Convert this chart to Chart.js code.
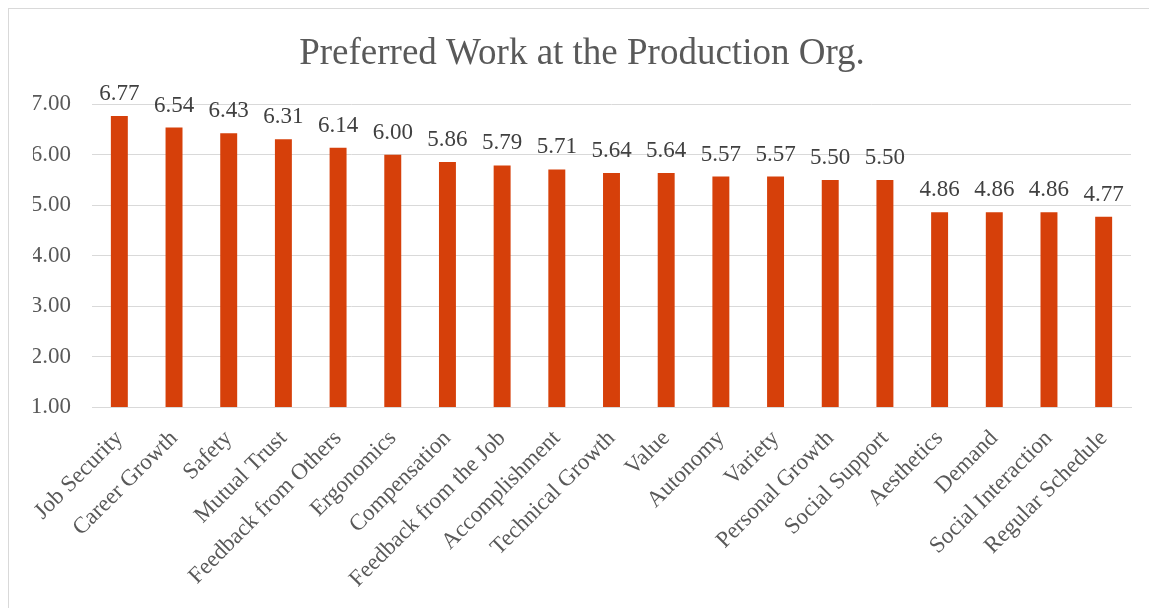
<!DOCTYPE html>
<html>
<head>
<meta charset="utf-8">
<script src="https://cdn.jsdelivr.net/npm/chart.js@4/dist/chart.umd.min.js"></script>
<style>
  html, body { margin: 0; padding: 0; background: #fff; overflow: hidden; }
  #frame { position: absolute; left: 8px; top: 8px; width: 1200px; height: 700px;
           border-left: 1.5px solid #d9d9d9; border-top: 1.5px solid #d9d9d9; }
  #wrap { position: absolute; left: 0; top: 0; width: 1149px; height: 608px; }
</style>
</head>
<body>
<div id="frame"></div>
<div id="wrap"><canvas id="chart" width="1149" height="608"></canvas></div>
<script>
const categories = [
  "Job Security", "Career Growth", "Safety", "Mutual Trust", "Feedback from Others",
  "Ergonomics", "Compensation", "Feedback from the Job", "Accomplishment",
  "Technical Growth", "Value", "Autonomy", "Variety", "Personal Growth",
  "Social Support", "Aesthetics", "Demand", "Social Interaction", "Regular Schedule"
];
const scores = [6.77, 6.54, 6.43, 6.31, 6.14, 6.00, 5.86, 5.79, 5.71, 5.64, 5.64,
                5.57, 5.57, 5.50, 5.50, 4.86, 4.86, 4.86, 4.77];
const yTicks = [1, 2, 3, 4, 5, 6, 7];

const SERIF = "'Liberation Serif', 'Times New Roman', serif";
const TEXT = "#595959";

// Writes each bar's value just above it
const valueLabels = {
  id: "valueLabels",
  afterDatasetsDraw(chart) {
    const ctx = chart.ctx;
    const meta = chart.getDatasetMeta(0);
    ctx.save();
    ctx.font = "23px " + SERIF;
    ctx.fillStyle = "#404040";
    ctx.textAlign = "center";
    ctx.textBaseline = "alphabetic";
    meta.data.forEach((bar, i) => {
      ctx.fillText(scores[i].toFixed(2), bar.x, bar.y - 16);
    });
    ctx.restore();
  }
};

new Chart(document.getElementById("chart"), {
  type: "bar",
  data: {
    labels: categories,
    datasets: [{
      data: scores,
      backgroundColor: "#D6400A",
      borderWidth: 0,
      barPercentage: 0.31,
      categoryPercentage: 1
    }]
  },
  options: {
    responsive: false,
    animation: false,
    layout: { padding: { left: 33, right: 18, top: 0, bottom: 0 } },
    plugins: {
      legend: { display: false },
      tooltip: { enabled: false },
      title: {
        display: true,
        text: "Preferred Work at the Production Org.",
        color: TEXT,
        font: { family: SERIF, size: 37, weight: "normal", lineHeight: 1.2 },
        padding: { top: 32, bottom: 28 }
      }
    },
    scales: {
      x: {
        grid: { display: false },
        border: { display: true, color: "#d9d9d9", width: 1 },
        ticks: {
          color: TEXT,
          font: { family: SERIF, size: 23 },
          minRotation: 45,
          maxRotation: 45,
          autoSkip: false,
          padding: 10
        },
        afterFit(scale) { scale.height = 201; }
      },
      y: {
        min: 1,
        max: 7,
        afterBuildTicks(scale) { scale.ticks = yTicks.map(v => ({ value: v })); },
        grid: { color: "#d9d9d9", lineWidth: 1, drawTicks: false },
        border: { display: false },
        ticks: {
          color: TEXT,
          font: { family: SERIF, size: 23 },
          padding: 21,
          callback: v => Number(v).toFixed(2)
        },
        afterFit(scale) { scale.width = 59; }
      }
    }
  },
  plugins: [valueLabels]
});
</script>
</body>
</html>
